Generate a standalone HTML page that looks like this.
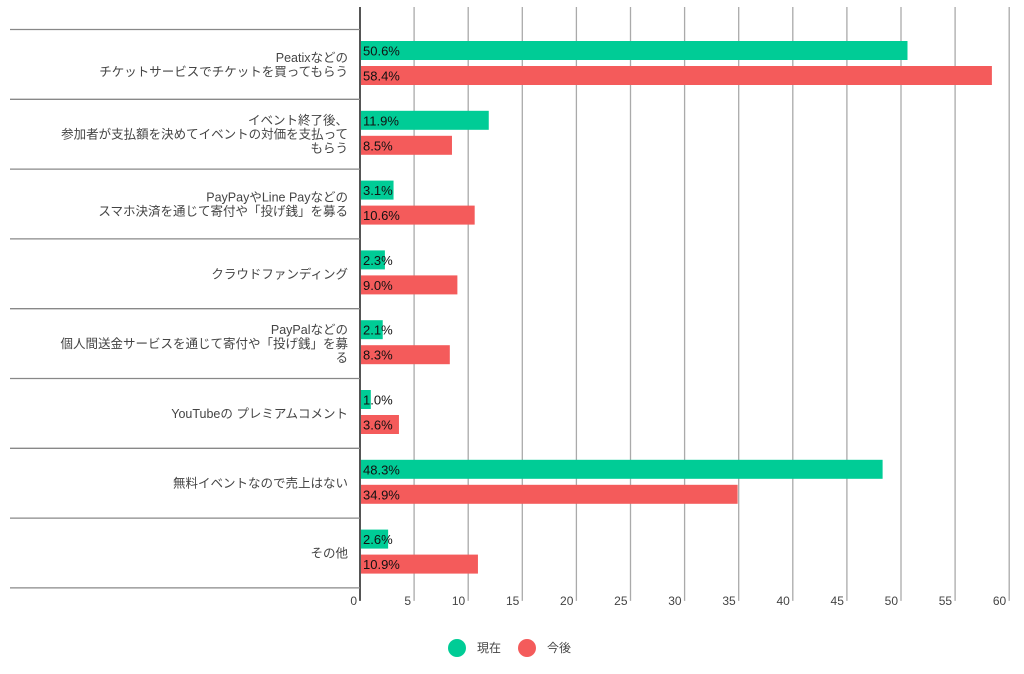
<!DOCTYPE html>
<html><head><meta charset="utf-8"><style>
body{margin:0;background:#fff;width:1024px;height:669px;overflow:hidden;font-family:"Liberation Sans","Noto Sans CJK JP",sans-serif}
svg text{font-family:"Liberation Sans","Noto Sans CJK JP",sans-serif}
</style></head><body>
<svg id="chart" width="1024" height="669" xmlns="http://www.w3.org/2000/svg"></svg>
<script>
const categories=[["Peatixなどの","チケットサービスでチケットを買ってもらう"],["イベント終了後、","参加者が支払額を決めてイベントの対価を支払って","もらう"],["PayPayやLine Payなどの","スマホ決済を通じて寄付や「投げ銭」を募る"],["クラウドファンディング"],["PayPalなどの","個人間送金サービスを通じて寄付や「投げ銭」を募","る"],["YouTubeの プレミアムコメント"],["無料イベントなので売上はない"],["その他"]];
const currentValues=[50.6,11.9,3.1,2.3,2.1,1.0,48.3,2.6];
const futureValues=[58.4,8.5,10.6,9.0,8.3,3.6,34.9,10.9];
const tickValues=[0,5,10,15,20,25,30,35,40,45,50,55,60];
const seriesNames=["現在","今後"];
const colors=["#00cc96","#f45b5b"];
const svg=document.getElementById('chart');
const NS="http://www.w3.org/2000/svg";
const x0=360,unit=10.82,top0=29.5,rowH=69.8;
const xs=v=>x0+v*unit;
function mk(tag,attrs,text){const e=document.createElementNS(NS,tag);for(const k in attrs)e.setAttribute(k,attrs[k]);if(text!==undefined)e.textContent=text;svg.appendChild(e);return e;}
const bottom=top0+rowH*categories.length;
tickValues.forEach(t=>{
 const g=mk('line',{x1:xs(t),x2:xs(t),y1:7,y2:bottom+13,stroke:t===0?'#555':'#aaa','stroke-width':t===0?2:1.3});
 
 
 const l=mk('text',{x:xs(t)-3,y:bottom+17,'text-anchor':'end','font-size':12,fill:'#444'},String(t));
 
 
});
for(let i=0;i<=categories.length;i++){
 const s=mk('line',{x1:10,x2:x0,y1:top0+i*rowH,y2:top0+i*rowH,stroke:'#888','stroke-width':1.3});
 
 
}
categories.forEach((c,i)=>{
 const cy=top0+i*rowH+rowH/2;
 const n=c.length,lh=14;
 c.forEach((ln,j)=>{
  const t=mk('text',{x:348,y:cy-(n-1)*lh/2+j*lh+4.5,'text-anchor':'end','font-size':12.5,fill:'#444'},ln);
  
  
 });
 [currentValues[i],futureValues[i]].forEach((v,k)=>{
  const y=top0+i*rowH+11.5+k*25;
  const b=mk('rect',{x:x0+1,y:y,width:xs(v)-x0-1,height:19,fill:colors[k]});
  
  
  const t=mk('text',{x:x0+3,y:y+14.5,'font-size':13,fill:'#111','font-family':'Liberation Mono,monospace'},v.toFixed(1)+'%');
  
  
 });
});
seriesNames.forEach((s,k)=>{
 const cx=457+k*70;
 const c=mk('circle',{cx:cx,cy:648,r:9,fill:colors[k]});
 
 
 const t=mk('text',{x:cx+20,y:652,'font-size':12,fill:'#444'},s);
 
 
});
</script>
</body></html>
